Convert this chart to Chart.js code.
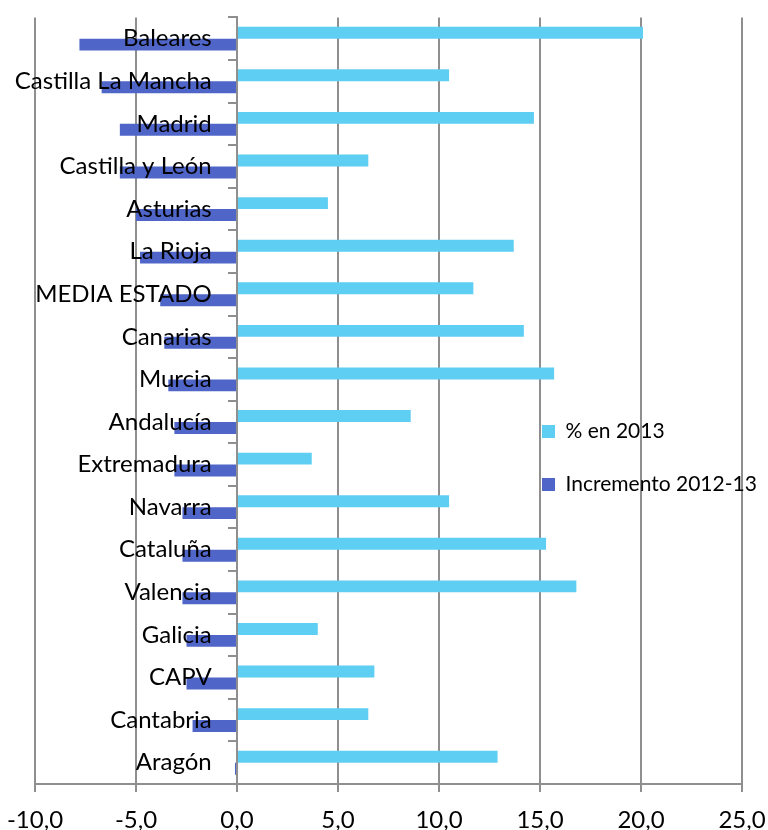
<!DOCTYPE html>
<html>
<head>
<meta charset="utf-8">
<script src="https://cdn.jsdelivr.net/npm/chart.js@4.4.0/dist/chart.umd.min.js"></script>
<style>
  html, body { margin: 0; padding: 0; background: #fff; }
  #wrap { width: 768px; height: 830px; position: relative; }
</style>
</head>
<body>
<div id="wrap"><canvas id="myChart"></canvas></div>
<script>
const ctx = document.querySelector('#myChart').getContext('2d');

// categories, top to bottom
const labels = [
    'Baleares', 'Castilla La Mancha', 'Madrid', 'Castilla y León', 'Asturias',
    'La Rioja', 'MEDIA ESTADO', 'Canarias', 'Murcia', 'Andalucía',
    'Extremadura', 'Navarra', 'Cataluña', 'Valencia', 'Galicia',
    'CAPV', 'Cantabria', 'Aragón'
];

// % en 2013
const pct2013 = [20.1, 10.5, 14.7, 6.5, 4.5, 13.7, 11.7, 14.2, 15.7, 8.6, 3.7, 10.5, 15.3, 16.8, 4.0, 6.8, 6.5, 12.9];

// Incremento 2012-13
const incremento = [-7.8, -6.7, -5.8, -5.8, -5.0, -4.8, -3.8, -3.6, -3.4, -3.1, -3.1, -2.7, -2.7, -2.7, -2.5, -2.5, -2.2, -0.1];

// x axis ticks
const xTicks = [-10, -5, 0, 5, 10, 15, 20, 25];

const gridGray = '#8f8f8f';

Chart.defaults.font.family = 'Lato';
Chart.defaults.color = '#000';

// put the legend inside the plot, on the right side (like the excel original)
const legendMover = {
    id: 'legendMover',
    afterLayout(chart) {
        const lg = chart.legend;
        lg.left = 510;
        lg.top = 389;
        lg.right = chart.width;
        lg.bottom = chart.height;
    }
};

const data = {
    labels,
    datasets: [{
        label: '% en 2013',
        data: pct2013,
        backgroundColor: '#5ecef2',
        categoryPercentage: 0.56,
        barPercentage: 1.0
    }, {
        label: 'Incremento 2012-13',
        data: incremento,
        backgroundColor: '#4f66c8',
        categoryPercentage: 0.56,
        barPercentage: 1.0
    }]
};

const config = {
    type: 'bar',
    data: data,
    plugins: [legendMover],
    options: {
        indexAxis: 'y',
        responsive: true,
        maintainAspectRatio: false,
        animation: false,
        layout: {
            padding: { top: 16, left: 35, right: 26, bottom: 0 }
        },
        plugins: {
            tooltip: { enabled: false },
            legend: {
                position: 'chartArea',
                align: 'start',
                labels: {
                    boxWidth: 13,
                    boxHeight: 13,
                    padding: 32,
                    font: { size: 21 }
                }
            }
        },
        scales: {
            x: {
                min: xTicks[0],
                max: xTicks[xTicks.length - 1],
                ticks: {
                    stepSize: 5,
                    padding: 14,
                    font: { size: 24 },
                    // excel style decimals with comma
                    callback: (value) => value.toFixed(1).replace('.', ',')
                },
                grid: { color: gridGray, lineWidth: 2, tickLength: 8 },
                border: { color: gridGray, width: 2 },
                afterFit: (scale) => {
                    // labels may hang outside, the layout padding handles it
                    scale.paddingLeft = 0;
                    scale.paddingRight = 0;
                    scale.height = 46;
                }
            },
            // axis line + tick marks at 0
            y: {
                position: { x: 0 },
                ticks: { display: false },
                grid: { drawOnChartArea: false, color: gridGray, lineWidth: 2, tickLength: 8, offset: true },
                border: { color: gridGray, width: 2 }
            },
            // category names, a bit left of the 0 axis, drawn over the bars
            yl: {
                type: 'category',
                axis: 'y',
                position: { x: -1.25 },
                offset: true,
                ticks: { autoSkip: false, font: { size: 24 }, z: 1 },
                grid: { display: false },
                border: { display: false }
            }
        }
    }
};

const myChart = new Chart(ctx, config);
</script>
</body>
</html>
